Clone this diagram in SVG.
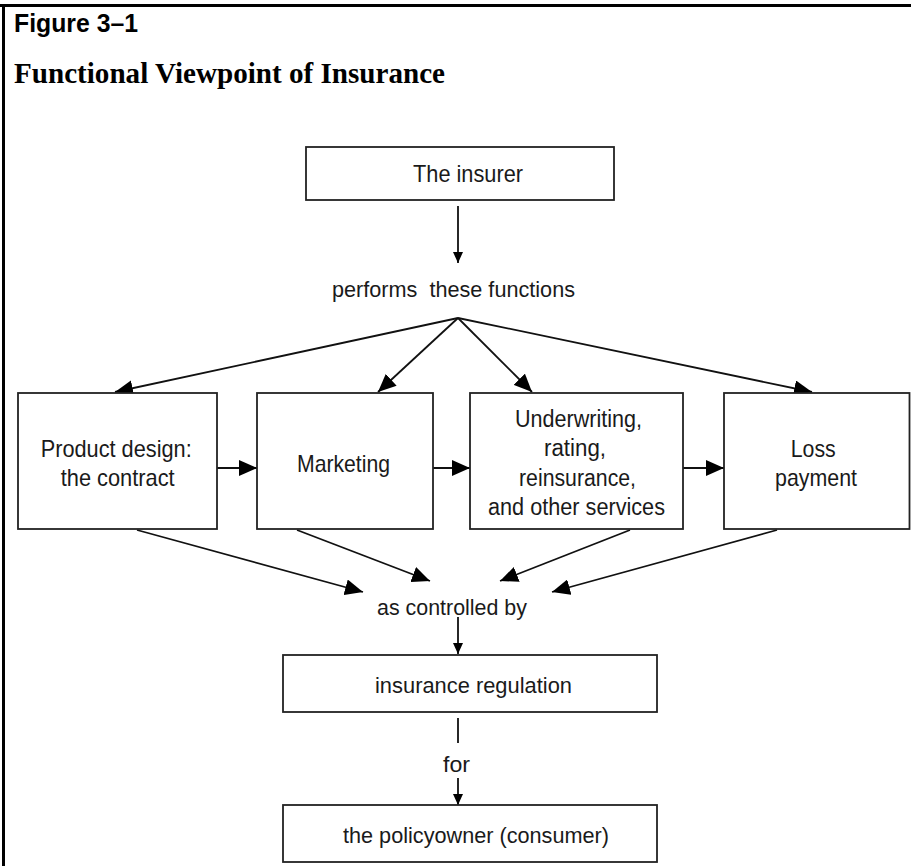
<svg xmlns="http://www.w3.org/2000/svg" width="911" height="866" viewBox="0 0 911 866">
<style>
.box{fill:#fff;stroke:#222;stroke-width:1.8}
.ln{fill:none;stroke:#111;stroke-width:1.8}
.big{marker-end:url(#ah)}
.sm{marker-end:url(#as)}
.t{font-family:"Liberation Sans",Arial,Helvetica,sans-serif;fill:#1a1a1a}
.hd{font-family:"Liberation Sans",Arial,sans-serif;font-weight:bold;fill:#000}
.ti{font-family:"Liberation Serif","Times New Roman",serif;font-weight:bold;fill:#000}
</style>
<defs>
<marker id="ah" markerUnits="userSpaceOnUse" markerWidth="18" markerHeight="16" refX="18" refY="8" orient="auto"><path d="M0,0 L18,8 L0,16 Z" fill="#000"/></marker>
<marker id="as" markerUnits="userSpaceOnUse" markerWidth="11" markerHeight="10" refX="11" refY="5" orient="auto"><path d="M0,0 L11,5 L0,10 Z" fill="#000"/></marker>
</defs>
<rect x="0" y="0" width="911" height="866" fill="#fff"/>
<g id="frame">
<line x1="0" y1="5.5" x2="911" y2="5.5" stroke="#000" stroke-width="3"/>
<line x1="3.5" y1="4" x2="3.5" y2="866" stroke="#000" stroke-width="3"/>
</g>
<g id="header">
<text class="hd" x="14" y="32" font-size="26" textLength="124" lengthAdjust="spacingAndGlyphs">Figure 3–1</text>
<text class="ti" x="14" y="83" font-size="29" textLength="431" lengthAdjust="spacingAndGlyphs">Functional Viewpoint of Insurance</text>
</g>
<g id="connectors">
<line class="ln sm" x1="458" y1="206" x2="458" y2="263"/>
<line class="ln big" x1="458" y1="318" x2="115" y2="392"/>
<line class="ln big" x1="458" y1="318" x2="378" y2="392"/>
<line class="ln big" x1="458" y1="318" x2="532" y2="392"/>
<line class="ln big" x1="458" y1="318" x2="812" y2="392"/>
<line class="ln big" x1="217" y1="468" x2="257" y2="468"/>
<line class="ln big" x1="432" y1="468" x2="470" y2="468"/>
<line class="ln big" x1="683" y1="468" x2="724" y2="468"/>
<line class="ln big" x1="137" y1="530" x2="363" y2="592"/>
<line class="ln big" x1="297" y1="530" x2="430" y2="581"/>
<line class="ln big" x1="630" y1="530" x2="500" y2="581"/>
<line class="ln big" x1="777" y1="530" x2="552" y2="592"/>
<line class="ln sm" x1="458" y1="617" x2="458" y2="654"/>
<line class="ln" x1="458" y1="718" x2="458" y2="743"/>
<line class="ln sm" x1="458" y1="778" x2="458" y2="805"/>
</g>
<g id="insurer">
<rect class="box" x="306" y="147" width="308" height="53"/>
<text class="t" x="413" y="182" font-size="24" textLength="110" lengthAdjust="spacingAndGlyphs">The insurer</text>
</g>
<g id="performs">
<text class="t" x="332" y="297" font-size="22" textLength="243" lengthAdjust="spacingAndGlyphs" xml:space="preserve">performs  these functions</text>
</g>
<g id="product-design">
<rect class="box" x="18" y="393" width="199" height="136"/>
<text class="t" x="40.7" y="457" font-size="24" textLength="151" lengthAdjust="spacingAndGlyphs">Product design:</text>
<text class="t" x="60.7" y="486" font-size="24" textLength="114" lengthAdjust="spacingAndGlyphs">the contract</text>
</g>
<g id="marketing">
<rect class="box" x="257" y="393" width="176" height="136"/>
<text class="t" x="297" y="472" font-size="24" textLength="93" lengthAdjust="spacingAndGlyphs">Marketing</text>
</g>
<g id="underwriting">
<rect class="box" x="470" y="393" width="213" height="136"/>
<text class="t" x="515" y="427" font-size="23.5" textLength="127" lengthAdjust="spacingAndGlyphs">Underwriting,</text>
<text class="t" x="544" y="456" font-size="23.5" textLength="62" lengthAdjust="spacingAndGlyphs">rating,</text>
<text class="t" x="519" y="486" font-size="23.5" textLength="117" lengthAdjust="spacingAndGlyphs">reinsurance,</text>
<text class="t" x="488" y="515" font-size="23.5" textLength="177" lengthAdjust="spacingAndGlyphs">and other services</text>
</g>
<g id="loss-payment">
<rect class="box" x="724" y="393" width="185.5" height="136"/>
<text class="t" x="790.7" y="457" font-size="24" textLength="45" lengthAdjust="spacingAndGlyphs">Loss</text>
<text class="t" x="775" y="486" font-size="24" textLength="82" lengthAdjust="spacingAndGlyphs">payment</text>
</g>
<g id="controlled">
<text class="t" x="377" y="615" font-size="21.5" textLength="150" lengthAdjust="spacingAndGlyphs">as controlled by</text>
</g>
<g id="regulation">
<rect class="box" x="283" y="655" width="374" height="57"/>
<text class="t" x="375" y="693" font-size="22.5" textLength="197" lengthAdjust="spacingAndGlyphs">insurance regulation</text>
</g>
<g id="for">
<text class="t" x="443" y="772" font-size="22" textLength="27" lengthAdjust="spacingAndGlyphs">for</text>
</g>
<g id="policyowner">
<rect class="box" x="283" y="805" width="374" height="57"/>
<text class="t" x="343" y="843" font-size="22" textLength="266" lengthAdjust="spacingAndGlyphs">the policyowner (consumer)</text>
</g>
</svg>
